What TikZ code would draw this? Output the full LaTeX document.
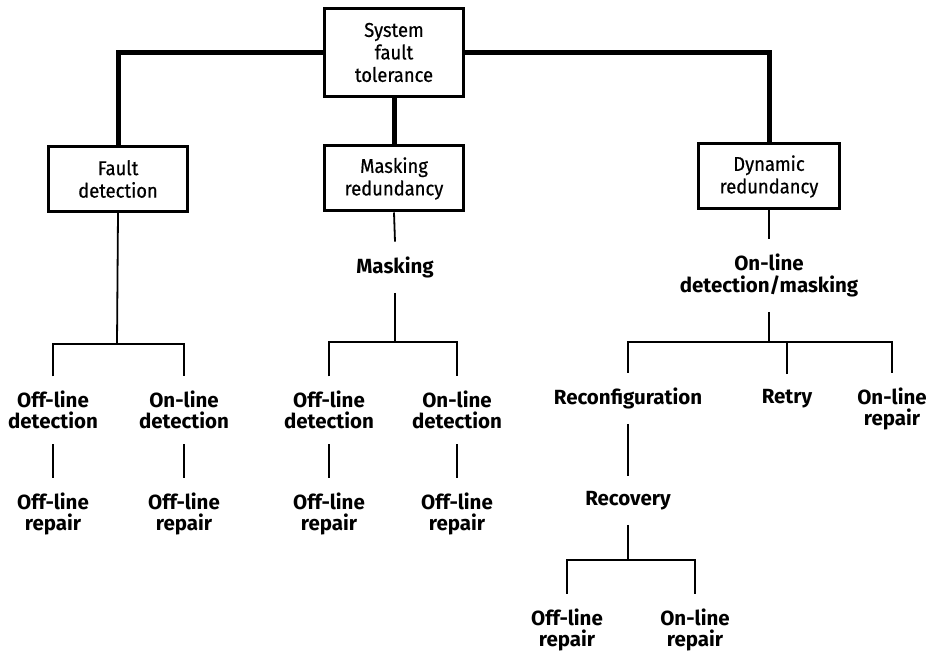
\documentclass[tikz,border=0pt]{standalone}
\usepackage{fontspec}
\setmainfont{Fira Sans}
\newfontfamily\boxfont[FakeStretch=0.92,FakeBold=0.5]{Fira Sans}
\begin{document}
\begin{tikzpicture}[x=1pt,y=-1pt,
  box/.style={draw,line width=3pt,minimum width=139pt,minimum height=65pt,
    inner sep=0pt,align=center,font=\boxfont\fontsize{20}{22.5}\selectfont},
  lab/.style={align=center,inner sep=0pt,outer xsep=0pt,outer ysep=15pt,
    font=\bfseries\fontsize{20.5}{21}\selectfont},
  thicklink/.style={line width=5pt},
  link/.style={line width=1.8pt}]
\useasboundingbox[fill=white] (0,0) rectangle (932,652);

% top level
\node[box,minimum height=88pt] (sft) at (394,52.5) {System\\fault\\tolerance};
\node[box] (fd) at (118,179) {Fault\\detection};
\node[box] (mr) at (394,178.5) {Masking\\redundancy};
\node[box,minimum width=141pt] (dr) at (769,176.5) {Dynamic\\redundancy};

\draw[thicklink] (sft.west) -| (fd.north);
\draw[thicklink] (sft.east) -| (dr.north);
\draw[thicklink] (sft.south) -- (mr.north);

% fault detection branch
\coordinate (fdj) at (117,344);
\node[lab] (fdoff) at (53,410.3) {Off-line\\detection};
\node[lab] (fdon) at (184,410.3) {On-line\\detection};
\node[lab] (fdoffr) at (53,513.7) {Off-line\\repair};
\node[lab] (fdonr) at (184,513.7) {Off-line\\repair};
\draw[link] (fd.south) -- (fdj);
\draw[link] (fdoff.north) |- (fdj) -| (fdon.north);
\draw[link] (fdoff.south) -- (fdoffr.north);
\draw[link] (fdon.south) -- (fdonr.north);

% masking redundancy branch
\node[lab] (mk) at (395,267.2) {Masking};
\coordinate (mkj) at (395,342);
\node[lab] (mkoff) at (329,410.3) {Off-line\\detection};
\node[lab] (mkon) at (457,410.3) {On-line\\detection};
\node[lab] (mkoffr) at (329,513.7) {Off-line\\repair};
\node[lab] (mkonr) at (457,513.7) {Off-line\\repair};
\draw[link] (mr.south) -- (mk.north);
\draw[link] (mk.south) -- (mkj);
\draw[link] (mkoff.north) |- (mkj) -| (mkon.north);
\draw[link] (mkoff.south) -- (mkoffr.north);
\draw[link] (mkon.south) -- (mkonr.north);

% dynamic redundancy branch
\node[lab,font=\bfseries\fontsize{20.5}{22}\selectfont] (old) at (769,275.2) {On-line\\detection/masking};
\coordinate (drj) at (769,342);
\node[lab] (rc) at (628,398.2) {Reconfiguration};
\node[lab] (rt) at (787,398.4) {Retry};
\node[lab] (olr) at (892,408.7) {On-line\\repair};
\draw[link] (dr.south) -- (old.north);
\draw[link] (old.south) -- (drj);
\draw[link] (rc.north) |- (drj) -| (olr.north);
\draw[link] (rt.north) -- (rt.north |- drj);

% recovery
\node[lab] (rv) at (628,500.4) {Recovery};
\coordinate (rvj) at (628,560);
\node[lab] (rvoff) at (567,629.7) {Off-line\\repair};
\node[lab] (rvon) at (695,629.7) {On-line\\repair};
\draw[link] (rc.south) -- (rv.north);
\draw[link] (rv.south) -- (rvj);
\draw[link] (rvoff.north) |- (rvj) -| (rvon.north);
\end{tikzpicture}
\end{document}
